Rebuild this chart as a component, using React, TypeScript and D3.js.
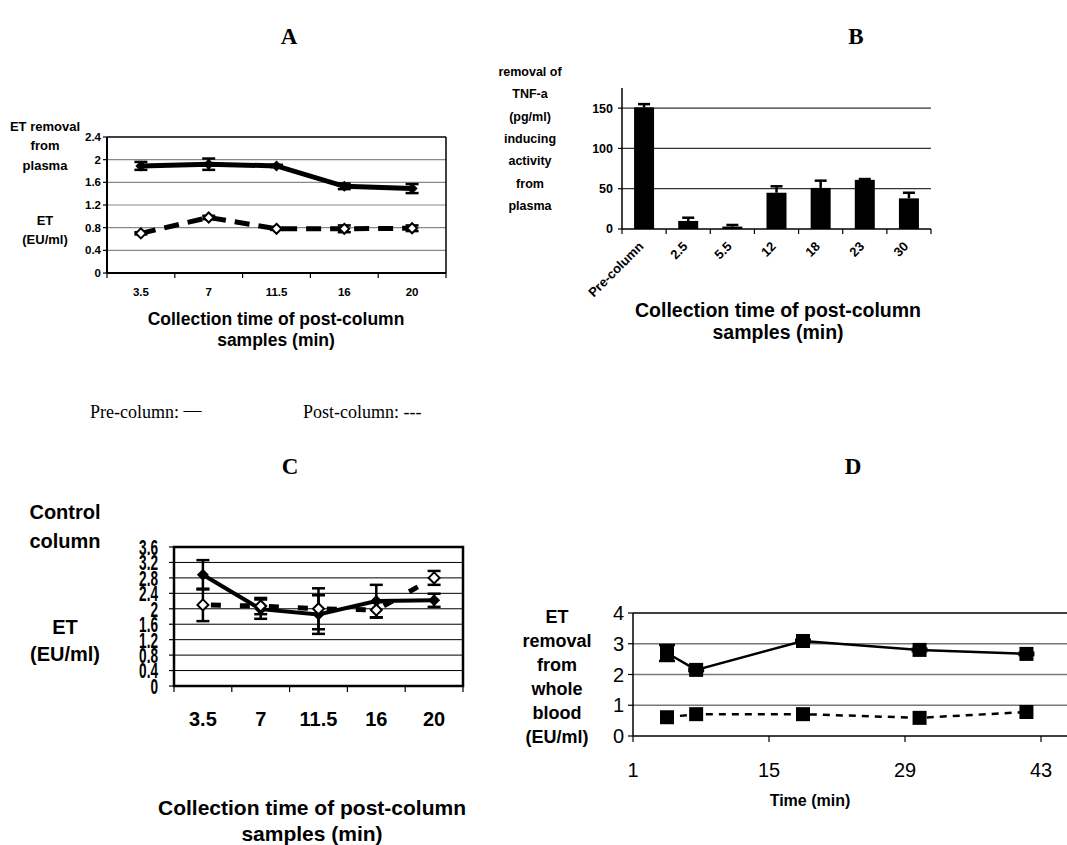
import React from "react";
import * as d3 from "d3";

// ---------- Panel A ----------
const aCategories = ["3.5", "7", "11.5", "16", "20"];
const aPre = [1.89, 1.92, 1.89, 1.53, 1.49];
const aPreErr = [0.07, 0.1, 0.02, 0.05, 0.08];
const aPost = [0.7, 0.98, 0.78, 0.78, 0.79];
const aPostErr = [0.02, 0.03, 0.02, 0.06, 0.05];
const aYTicks = [0, 0.4, 0.8, 1.2, 1.6, 2, 2.4];

// ---------- Panel B ----------
const bCategories = ["Pre-column", "2.5", "5.5", "12", "18", "23", "30"];
const bValues = [151, 10, 3, 45, 51, 61, 38];
const bErrors = [4, 4, 2, 8, 9, 1, 7];
const bYTicks = [0, 50, 100, 150];

// ---------- Panel C ----------
const cCategories = ["3.5", "7", "11.5", "16", "20"];
const cPre = [2.88, 1.99, 1.85, 2.2, 2.22];
const cPreErr = [0.38, 0.25, 0.5, 0.42, 0.17];
const cPost = [2.1, 2.07, 2.0, 1.97, 2.8];
const cPostErr = [0.42, 0.21, 0.53, 0.2, 0.18];
const cYTicks = [0, 0.4, 0.8, 1.2, 1.6, 2, 2.4, 2.8, 3.2, 3.6];

// ---------- Panel D ----------
const dTimes = [4.5, 7.5, 18.5, 30.5, 41.5];
const dPre = [2.7, 2.15, 3.09, 2.8, 2.67];
const dPreErr = [0.26, 0.04, 0.04, 0.04, 0.04];
const dPost = [0.61, 0.71, 0.71, 0.59, 0.78];
const dYTicks = [0, 1, 2, 3, 4];
const dXTicks = [1, 15, 29, 43];

const SANS = "'Liberation Sans', Arial, sans-serif";
const SERIF = "'Liberation Serif', 'Times New Roman', serif";

function diamond(cx: number, cy: number, r: number) {
  return `M${cx},${cy - r}L${cx + r},${cy}L${cx},${cy + r}L${cx - r},${cy}Z`;
}

function ErrorBar({ x, y1, y2, w, sw }: { x: number; y1: number; y2: number; w: number; sw: number }) {
  return (
    <g stroke="#000" strokeWidth={sw}>
      <line x1={x} x2={x} y1={y1} y2={y2} />
      <line x1={x - w / 2} x2={x + w / 2} y1={y1} y2={y1} />
      <line x1={x - w / 2} x2={x + w / 2} y1={y2} y2={y2} />
    </g>
  );
}

function PanelA() {
  const x = d3.scaleBand().domain(aCategories).range([107, 446]);
  const y = d3.scaleLinear().domain([0, 2.4]).range([273, 137]);
  const cx = (c: string) => (x(c) as number) + x.bandwidth() / 2;
  const line = d3.line<number>().x((_, i) => cx(aCategories[i])).y((v) => y(v));
  const ticksX = [...aCategories.map((c) => x(c) as number), 446];
  return (
    <g fontFamily={SANS} fontWeight="bold">
      {aYTicks.slice(1, -1).map((t) => (
        <line key={t} x1={107} x2={446} y1={y(t)} y2={y(t)} stroke="#888" strokeWidth={1.2} />
      ))}
      <line x1={107} x2={446} y1={y(2.4)} y2={y(2.4)} stroke="#000" strokeWidth={1.5} />
      <line x1={446} x2={446} y1={y(2.4)} y2={y(0)} stroke="#000" strokeWidth={1.5} />
      <line x1={107} x2={107} y1={y(2.4)} y2={y(0)} stroke="#000" strokeWidth={2} />
      <line x1={107} x2={446} y1={y(0)} y2={y(0)} stroke="#000" strokeWidth={2} />
      {aYTicks.map((t) => (
        <g key={t}>
          <line x1={103} x2={107} y1={y(t)} y2={y(t)} stroke="#000" strokeWidth={1.2} />
          <text x={101} y={y(t)} dy="0.35em" textAnchor="end" fontSize={11.5}>{t}</text>
        </g>
      ))}
      {ticksX.map((t, i) => (
        <line key={i} x1={t} x2={t} y1={y(0)} y2={y(0) + 5} stroke="#000" strokeWidth={1.2} />
      ))}
      {aCategories.map((c) => (
        <text key={c} x={cx(c)} y={296} textAnchor="middle" fontSize={11.5}>{c}</text>
      ))}
      {/* post-column dashed */}
      <path d={line(aPost) || ""} fill="none" stroke="#000" strokeWidth={5} strokeDasharray="15,9" />
      {aPost.map((v, i) => (
        <ErrorBar key={i} x={cx(aCategories[i])} y1={y(v + aPostErr[i])} y2={y(v - aPostErr[i])} w={13} sw={2.5} />
      ))}
      {aPost.map((v, i) => (
        <path key={i} d={diamond(cx(aCategories[i]), y(v), 5)} fill="#fff" stroke="#000" strokeWidth={2} />
      ))}
      {/* pre-column solid */}
      <path d={line(aPre) || ""} fill="none" stroke="#000" strokeWidth={5} />
      {aPre.map((v, i) => (
        <ErrorBar key={i} x={cx(aCategories[i])} y1={y(v + aPreErr[i])} y2={y(v - aPreErr[i])} w={13} sw={2.5} />
      ))}
      {aPre.map((v, i) => (
        <path key={i} d={diamond(cx(aCategories[i]), y(v), 5.5)} fill="#000" />
      ))}
      <g fontSize={13} textAnchor="middle">
        <text x={45} y={131}>ET removal</text>
        <text x={45} y={150}>from</text>
        <text x={45} y={170}>plasma</text>
        <text x={45} y={225}>ET</text>
        <text x={45} y={244}>(EU/ml)</text>
      </g>
      <g fontSize={17.5} textAnchor="middle">
        <text x={276} y={325}>Collection time of post-column</text>
        <text x={276} y={346}>samples (min)</text>
      </g>
    </g>
  );
}

function PanelB() {
  const x = d3.scaleBand().domain(bCategories).range([622, 931]);
  const y = d3.scaleLinear().domain([0, 175]).range([229, 88]);
  const bw = 20;
  const cx = (c: string) => (x(c) as number) + x.bandwidth() / 2;
  const ticksX = [...bCategories.map((c) => x(c) as number), 931];
  return (
    <g fontFamily={SANS} fontWeight="bold">
      {bYTicks.slice(1).map((t) => (
        <line key={t} x1={622} x2={931} y1={y(t)} y2={y(t)} stroke="#333" strokeWidth={1.2} />
      ))}
      {bValues.map((v, i) => {
        const c = bCategories[i];
        return (
          <g key={c}>
            <rect x={cx(c) - bw / 2} y={y(v)} width={bw} height={y(0) - y(v)} fill="#000" />
            <line x1={cx(c)} x2={cx(c)} y1={y(v)} y2={y(v + bErrors[i])} stroke="#000" strokeWidth={2.5} />
            <line x1={cx(c) - 6} x2={cx(c) + 6} y1={y(v + bErrors[i])} y2={y(v + bErrors[i])} stroke="#000" strokeWidth={2.5} />
          </g>
        );
      })}
      <line x1={622} x2={622} y1={88} y2={229} stroke="#000" strokeWidth={1.5} />
      <line x1={622} x2={931} y1={229} y2={229} stroke="#000" strokeWidth={1.5} />
      {bYTicks.map((t) => (
        <g key={t}>
          <line x1={618} x2={622} y1={y(t)} y2={y(t)} stroke="#000" strokeWidth={1.2} />
          <text x={613} y={y(t)} dy="0.35em" textAnchor="end" fontSize={12.5}>{t}</text>
        </g>
      ))}
      {ticksX.map((t, i) => (
        <line key={i} x1={t} x2={t} y1={229} y2={234} stroke="#000" strokeWidth={1.2} />
      ))}
      {bCategories.map((c) => (
        <text key={c} transform={`translate(${cx(c) - 3},${244}) rotate(-45)`} textAnchor="end" dy="0.35em" fontSize={13}>{c}</text>
      ))}
      <g fontSize={12.5} textAnchor="middle">
        {["removal of", "TNF-a", "(pg/ml)", "inducing", "activity", "from", "plasma"].map((s, i) => (
          <text key={i} x={530} y={76 + i * 22.3}>{s}</text>
        ))}
      </g>
      <g fontSize={19.5} textAnchor="middle">
        <text x={778} y={317}>Collection time of post-column</text>
        <text x={778} y={339}>samples (min)</text>
      </g>
    </g>
  );
}

function PanelC() {
  const x = d3.scaleBand().domain(cCategories).range([174, 463]);
  const y = d3.scaleLinear().domain([0, 3.6]).range([686, 547]);
  const cx = (c: string) => (x(c) as number) + x.bandwidth() / 2;
  const line = d3.line<number>().x((_, i) => cx(cCategories[i])).y((v) => y(v));
  const ticksX = [...cCategories.map((c) => x(c) as number), 463];
  return (
    <g fontFamily={SANS} fontWeight="bold">
      {cYTicks.slice(1, -1).map((t) => (
        <line key={t} x1={174} x2={463} y1={y(t)} y2={y(t)} stroke="#000" strokeWidth={1} />
      ))}
      <rect x={174} y={547} width={289} height={139} fill="none" stroke="#000" strokeWidth={2.5} />
      {cYTicks.map((t) => (
        <g key={t}>
          <line x1={169} x2={174} y1={y(t)} y2={y(t)} stroke="#000" strokeWidth={1.2} />
          <text transform={`translate(158,${y(t)}) scale(0.68,1.1)`} dy="0.36em" textAnchor="end" fontSize={20}>{t}</text>
        </g>
      ))}
      {ticksX.map((t, i) => (
        <line key={i} x1={t} x2={t} y1={686} y2={692} stroke="#000" strokeWidth={1.2} />
      ))}
      {cCategories.map((c) => (
        <text key={c} x={cx(c)} y={726} textAnchor="middle" fontSize={20}>{c}</text>
      ))}
      {/* post dashed */}
      <path d={line(cPost) || ""} fill="none" stroke="#000" strokeWidth={5} strokeDasharray="10,19" strokeDashoffset={-8} />
      {cPost.map((v, i) => (
        <ErrorBar key={i} x={cx(cCategories[i])} y1={y(v + cPostErr[i])} y2={y(v - cPostErr[i])} w={13} sw={2.5} />
      ))}
      {/* pre solid */}
      <path d={line(cPre) || ""} fill="none" stroke="#000" strokeWidth={4} />
      {cPre.map((v, i) => (
        <ErrorBar key={i} x={cx(cCategories[i])} y1={y(v + cPreErr[i])} y2={y(v - cPreErr[i])} w={13} sw={2.5} />
      ))}
      {cPre.map((v, i) => (
        <path key={i} d={diamond(cx(cCategories[i]), y(v), 6)} fill="#000" />
      ))}
      {cPost.map((v, i) => (
        <path key={i} d={diamond(cx(cCategories[i]), y(v), 5.5)} fill="#fff" stroke="#000" strokeWidth={2} />
      ))}
      <g fontSize={20} textAnchor="middle">
        <text x={65} y={519}>Control</text>
        <text x={65} y={548}>column</text>
        <text x={65} y={634}>ET</text>
        <text x={65} y={661}>(EU/ml)</text>
      </g>
      <g fontSize={21} textAnchor="middle">
        <text x={312} y={815}>Collection time of post-column</text>
        <text x={312} y={841}>samples (min)</text>
      </g>
    </g>
  );
}

function PanelD() {
  const x = d3.scaleLinear().domain([1, 43]).range([633, 1041]);
  const y = d3.scaleLinear().domain([0, 4]).range([736, 613]);
  const line = d3.line<number>().x((_, i) => x(dTimes[i])).y((v) => y(v));
  const sq = 14;
  return (
    <g fontFamily={SANS}>
      {[1, 2, 3].map((t) => (
        <line key={t} x1={633} x2={1067} y1={y(t)} y2={y(t)} stroke="#777" strokeWidth={1.5} />
      ))}
      <line x1={633} x2={1067} y1={y(4)} y2={y(4)} stroke="#000" strokeWidth={1.5} />
      <line x1={633} x2={633} y1={y(4)} y2={y(0)} stroke="#000" strokeWidth={1.5} />
      <line x1={633} x2={1067} y1={y(0)} y2={y(0)} stroke="#000" strokeWidth={1.5} />
      {dYTicks.map((t) => (
        <g key={t}>
          <line x1={628} x2={633} y1={y(t)} y2={y(t)} stroke="#000" strokeWidth={1.2} />
          <text x={624} y={y(t)} dy="0.36em" textAnchor="end" fontSize={20}>{t}</text>
        </g>
      ))}
      {dXTicks.map((t) => (
        <g key={t}>
          <line x1={x(t)} x2={x(t)} y1={736} y2={742} stroke="#000" strokeWidth={1.2} />
          <text x={x(t)} y={777} textAnchor="middle" fontSize={20}>{t}</text>
        </g>
      ))}
      <path d={line(dPost) || ""} fill="none" stroke="#000" strokeWidth={2.5} strokeDasharray="7,6" />
      <path d={line(dPre) || ""} fill="none" stroke="#000" strokeWidth={2.5} />
      {dPre.map((v, i) => (
        <ErrorBar key={i} x={x(dTimes[i])} y1={y(v + dPreErr[i])} y2={y(v - dPreErr[i])} w={16} sw={2.5} />
      ))}
      {dPre.map((v, i) => (
        <rect key={i} x={x(dTimes[i]) - sq / 2} y={y(v) - sq / 2} width={sq} height={sq} fill="#000" />
      ))}
      {dPost.map((v, i) => (
        <rect key={i} x={x(dTimes[i]) - sq / 2} y={y(v) - sq / 2} width={sq} height={sq} fill="#000" />
      ))}
      <g fontSize={18} fontWeight="bold" textAnchor="middle">
        {["ET", "removal", "from", "whole", "blood", "(EU/ml)"].map((s, i) => (
          <text key={i} x={557} y={623 + i * 24}>{s}</text>
        ))}
      </g>
      <text x={810} y={806} textAnchor="middle" fontSize={16} fontWeight="bold">Time (min)</text>
    </g>
  );
}

export default function App() {
  return (
    <svg width={1067} height={845} style={{ position: "absolute", left: 0, top: 0, background: "#fff" }}>
      <rect width={1067} height={845} fill="#fff" />
      <g fontFamily={SERIF} fontWeight="bold" fontSize={23} textAnchor="middle">
        <text x={289} y={44}>A</text>
        <text x={856} y={44}>B</text>
        <text x={290} y={474}>C</text>
        <text x={853} y={474}>D</text>
      </g>
      <g fontFamily={SERIF} fontSize={18}>
        <text x={90} y={418}>Pre-column: <tspan dy={-2}>—</tspan></text>
        <text x={303} y={418}>Post-column: ---</text>
      </g>
      <PanelA />
      <PanelB />
      <PanelC />
      <PanelD />
    </svg>
  );
}
